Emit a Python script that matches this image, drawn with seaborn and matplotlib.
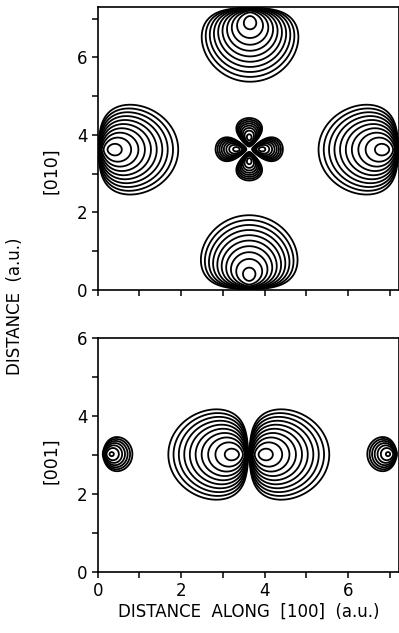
import numpy as np
import matplotlib
matplotlib.use("Agg")
import matplotlib.pyplot as plt
import seaborn as sns

sns.set_theme(style="ticks")
plt.rcParams["font.family"] = ["DejaVu Sans"]
plt.rcParams["text.color"] = "black"
plt.rcParams["contour.negative_linestyle"] = "solid"

# cell size (a.u.)
cell_x = 7.22
top_cell_y = 7.30
bot_cell_y = 6.0

# top panel, (001) plane: p-like lobes sitting on the cell edges, pointing inward
edge_node_x = [0.0, 7.22, 3.63, 3.65]
edge_node_y = [3.62, 3.62, 0.0, 7.30]
edge_dir_deg = [0, 180, 90, 270]
edge_decay = 0.38
edge_width = 0.84
edge_depth = 2.45
edge_inner = 0.10
edge_nlev = 10

# top panel, four-leaf (d-like) orbital in the middle
dlobe_center = [3.63, 3.63]
dlobe_decay = 0.15
dlobe_sharp = 1.05
dlobe_depth = 1.40
dlobe_inner = 0.07
dlobe_nlev = 8

# bottom panel, (010) plane: p_x orbital in the middle
px_center = [3.62, 3.02]
px_dir_deg = [0, 180]
px_decay = 0.38
px_width = 0.84
px_depth = 2.45
px_inner = 0.10
px_nlev = 10

# bottom panel, small lobes at the cell edges
small_node_x = [0.07, 7.22]
small_node_y = [3.03, 3.03]
small_dir_deg = [0, 180]
small_decay = 0.26
small_width = 1.0
small_depth = 0.85
small_inner = 0.02
small_nlev = 7

tick_major = list(range(0, 8))
top_yticks = list(range(0, 8))
bot_yticks = list(range(0, 7))


def p_lobe(X, Y, x0, y0, ang, a, w):
    ux, uy = np.cos(np.radians(ang)), np.sin(np.radians(ang))
    d = (X - x0) * ux + (Y - y0) * uy
    t = -(X - x0) * uy + (Y - y0) * ux
    r = np.sqrt(d**2 + (t / w) ** 2)
    return np.where(d > 0, np.log(np.clip(d, 1e-9, None)) - r / a, -50.0)


def p_levels(a, depth, inner, n):
    peak = np.log(a) - 1
    return np.linspace(peak - depth, peak - inner, n)


fig = plt.figure(figsize=(3.99, 6.33), dpi=100)
ax1 = fig.add_axes([0.245, 0.5419, 0.755, 0.4471])
ax2 = fig.add_axes([0.245, 0.0959, 0.755, 0.3697])

lw = 1.3

# top panel
xs = np.linspace(0, cell_x, 800)
ys = np.linspace(0, top_cell_y, 800)
X, Y = np.meshgrid(xs, ys)
for x0, y0, ang in zip(edge_node_x, edge_node_y, edge_dir_deg):
    Z = p_lobe(X, Y, x0, y0, ang, edge_decay, edge_width)
    ax1.contour(X, Y, Z, levels=p_levels(edge_decay, edge_depth, edge_inner, edge_nlev),
                colors="black", linewidths=lw, linestyles="solid")

xc, yc = dlobe_center
Xc, Yc = X - xc, Y - yc
R = np.sqrt(Xc**2 + Yc**2) + 1e-9
cos2 = np.abs(Xc**2 - Yc**2) / R**2
Zd = 2 * np.log(R) + dlobe_sharp * np.log(cos2 + 1e-12) - R / dlobe_decay
dpeak = 2 * np.log(2 * dlobe_decay) - 2
ax1.contour(X, Y, Zd, levels=np.linspace(dpeak - dlobe_depth, dpeak - dlobe_inner, dlobe_nlev),
            colors="black", linewidths=lw, linestyles="solid")

# bottom panel
ys2 = np.linspace(0, bot_cell_y, 700)
X2, Y2 = np.meshgrid(xs, ys2)
for ang in px_dir_deg:
    Z = p_lobe(X2, Y2, px_center[0], px_center[1], ang, px_decay, px_width)
    ax2.contour(X2, Y2, Z, levels=p_levels(px_decay, px_depth, px_inner, px_nlev),
                colors="black", linewidths=lw, linestyles="solid")
for x0, y0, ang in zip(small_node_x, small_node_y, small_dir_deg):
    Z = p_lobe(X2, Y2, x0, y0, ang, small_decay, small_width)
    ax2.contour(X2, Y2, Z, levels=p_levels(small_decay, small_depth, small_inner, small_nlev),
                colors="black", linewidths=lw, linestyles="solid")

for ax, ytk in [(ax1, top_yticks), (ax2, bot_yticks)]:
    ax.set_xlim(0, cell_x)
    ax.set_xticks(tick_major)
    ax.set_yticks(ytk)
    ax.set_yticklabels([str(v) if v % 2 == 0 else "" for v in ytk])
    ax.tick_params(direction="out", length=4.3, width=1.1, color="black",
                   labelsize=12, pad=3.0, labelcolor="black")
    for sp in ax.spines.values():
        sp.set_color("black")
        sp.set_linewidth(1.2)
    ax.grid(False)

ax1.set_ylim(0, top_cell_y)
ax1.set_xticklabels([])
ax2.set_ylim(0, bot_cell_y)
ax2.set_xticklabels([str(v) if v % 2 == 0 else "" for v in tick_major])

fig.text(0.623, 0.033, "DISTANCE  ALONG  [100]  (a.u.)", ha="center", va="center", fontsize=12)
fig.text(0.038, 0.516, "DISTANCE  (a.u.)", rotation=90, ha="center", va="center", fontsize=12)
fig.text(0.128, 0.731, "[010]", rotation=90, ha="center", va="center", fontsize=12.5)
fig.text(0.128, 0.273, "[001]", rotation=90, ha="center", va="center", fontsize=12.5)

fig.savefig("out.png", dpi=100, facecolor="white")
